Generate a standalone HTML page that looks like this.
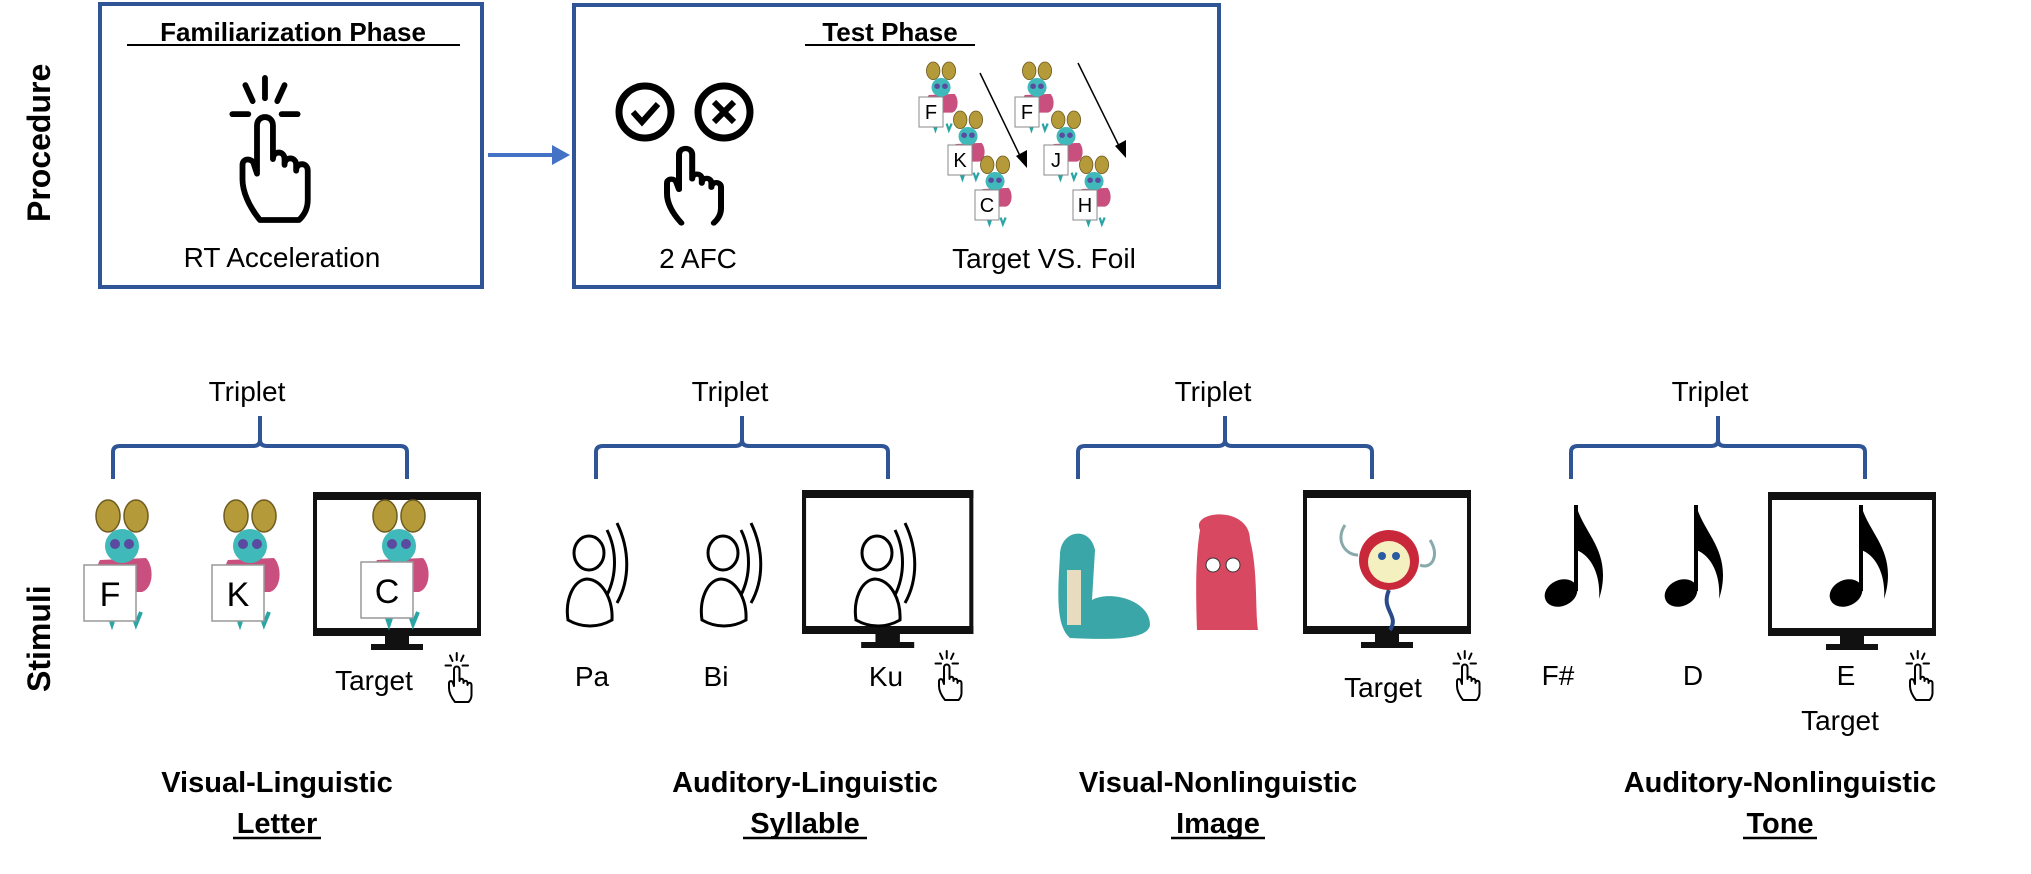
<!DOCTYPE html>
<html><head><meta charset="utf-8"><style>
html,body{margin:0;padding:0;background:#fff;}
svg{display:block;}
text{font-family:"Liberation Sans",sans-serif;fill:#000;}
</style></head><body>
<svg width="2031" height="874" viewBox="0 0 2031 874" xmlns="http://www.w3.org/2000/svg">
<defs>
  <g id="hand">
    <g fill="none" stroke="#000" stroke-width="4" stroke-linecap="round" stroke-linejoin="round">
      <path d="M22,100 C14,90 10,80 10,72 L10,62 C10,57 17,57 18,62 L20,68 L20,35 C20,27 31,27 31,35 L31,58 C31,52 39,52 39,58 L39,62 C39,56 47,56 47,62 L47,66 C47,60 55,60 55,66 L55,86 C55,93 52,97 49,100 Z"/>
      <line x1="25.5" y1="2" x2="25.5" y2="16"/>
      <line x1="12" y1="7" x2="17" y2="18"/>
      <line x1="39" y1="7" x2="34" y2="18"/>
      <line x1="3" y1="27" x2="14" y2="27"/>
      <line x1="37" y1="27" x2="48" y2="27"/>
    </g>
  </g>
  <g id="hand2">
    <g fill="none" stroke="#000" stroke-width="5" stroke-linecap="round" stroke-linejoin="round">
      <path d="M22,100 C14,90 10,80 10,72 L10,62 C10,57 17,57 18,62 L20,68 L20,35 C20,27 31,27 31,35 L31,58 C31,52 39,52 39,58 L39,62 C39,56 47,56 47,62 L47,66 C47,60 55,60 55,66 L55,86 C55,93 52,97 49,100"/>
    </g>
  </g>
  <g id="monster">
    <ellipse cx="20" cy="16" rx="12" ry="16" fill="#b59a3a" stroke="#6e5c20" stroke-width="1.5"/>
    <ellipse cx="48" cy="16" rx="12" ry="16" fill="#b59a3a" stroke="#6e5c20" stroke-width="1.5"/>
    <path d="M12,60 C6,70 8,90 20,92 L54,92 C66,88 66,66 58,58 Z" fill="#c9507e"/>
    <circle cx="34" cy="46" r="17" fill="#3fb9b9"/>
    <circle cx="27" cy="44" r="5" fill="#5a4aa0"/>
    <circle cx="41" cy="44" r="5" fill="#5a4aa0"/>
    <path d="M20,112 l4,12 l4,-12 M44,112 l4,12 l5,-12" stroke="#2aa5a5" stroke-width="4" fill="none"/>
  </g>
  <g id="person">
    <g fill="none" stroke="#000" stroke-width="3">
      <ellipse cx="24" cy="28" rx="15" ry="17"/>
      <path d="M3,95 C0,75 8,55 22,54 C38,55 48,75 47,95 C33,103 17,103 3,95 Z"/>
      <path d="M42,5 C52,25 52,50 42,70"/>
      <path d="M52,-2 C65,25 65,55 52,78"/>
    </g>
  </g>
  <g id="note">
    <ellipse cx="18" cy="88" rx="17" ry="13" transform="rotate(-25 18 88)" fill="#000"/>
    <rect x="31" y="0" width="4" height="86" fill="#000"/>
    <path d="M33,0 C40,25 60,40 60,70 C60,80 58,88 56,94 C58,70 48,50 33,45 Z" fill="#000"/>
  </g>
  <g id="monitor">
    <rect x="2" y="2" width="164" height="140" fill="#fff" stroke="#111" stroke-width="4"/>
    <rect x="0" y="0" width="168" height="8" fill="#111"/>
    <rect x="0" y="136" width="168" height="8" fill="#111"/>
    <rect x="72" y="144" width="24" height="10" fill="#111"/>
    <rect x="58" y="152" width="52" height="6" fill="#111"/>
  </g>
</defs>

<!-- Procedure label -->
<text transform="translate(50,222) rotate(-90)" font-size="32" font-weight="bold">Procedure</text>
<!-- Stimuli label -->
<text transform="translate(50,692) rotate(-90)" font-size="32" font-weight="bold">Stimuli</text>

<!-- Familiarization box -->
<rect x="100" y="4" width="382" height="283" fill="none" stroke="#2f5597" stroke-width="4"/>
<text x="293" y="41" font-size="26" font-weight="bold" text-anchor="middle">Familiarization Phase</text>
<line x1="127" y1="45" x2="460" y2="45" stroke="#000" stroke-width="2"/>
<use href="#hand" transform="translate(228,75) scale(1.45)"/>
<text x="282" y="267" font-size="28" text-anchor="middle">RT Acceleration</text>

<!-- arrow -->
<line x1="488" y1="155" x2="556" y2="155" stroke="#4472c4" stroke-width="4"/>
<polygon points="552,145 570,155 552,165" fill="#4472c4"/>

<!-- Test box -->
<rect x="574" y="5" width="645" height="282" fill="none" stroke="#2f5597" stroke-width="4"/>
<text x="890" y="41" font-size="26" font-weight="bold" text-anchor="middle">Test Phase</text>
<line x1="805" y1="45" x2="975" y2="45" stroke="#000" stroke-width="2"/>
<circle cx="645" cy="112" r="26" fill="none" stroke="#000" stroke-width="7"/>
<path d="M633,112 l9,10 l16,-18" fill="none" stroke="#000" stroke-width="6"/>
<circle cx="724" cy="112" r="26" fill="none" stroke="#000" stroke-width="7"/>
<path d="M714,102 l20,20 M734,102 l-20,20" stroke="#000" stroke-width="6"/>
<use href="#hand2" transform="translate(655,118) scale(1.2,1.05)"/>
<text x="698" y="268" font-size="28" text-anchor="middle">2 AFC</text>
<!-- mini monster sequences -->
<use href="#monster" transform="translate(922,62) scale(0.56,0.55)"/>
<use href="#monster" transform="translate(949,111) scale(0.56,0.55)"/>
<use href="#monster" transform="translate(976,156) scale(0.56,0.55)"/>
<use href="#monster" transform="translate(1018,62) scale(0.56,0.55)"/>
<use href="#monster" transform="translate(1047,111) scale(0.56,0.55)"/>
<use href="#monster" transform="translate(1075,156) scale(0.56,0.55)"/>
<g font-size="20" text-anchor="middle">
<rect x="919" y="97" width="24" height="30" fill="#fff" stroke="#888"/><text x="931" y="119">F</text>
<rect x="948" y="145" width="24" height="30" fill="#fff" stroke="#888"/><text x="960" y="167">K</text>
<rect x="975" y="190" width="24" height="30" fill="#fff" stroke="#888"/><text x="987" y="212">C</text>
<rect x="1015" y="97" width="24" height="30" fill="#fff" stroke="#888"/><text x="1027" y="119">F</text>
<rect x="1044" y="145" width="24" height="30" fill="#fff" stroke="#888"/><text x="1056" y="167">J</text>
<rect x="1073" y="190" width="24" height="30" fill="#fff" stroke="#888"/><text x="1085" y="212">H</text>
</g>
<line x1="980" y1="73" x2="1022" y2="160" stroke="#000" stroke-width="1.5"/>
<polygon points="1016,156 1027,168 1027,150" fill="#000"/>
<line x1="1078" y1="63" x2="1121" y2="150" stroke="#000" stroke-width="1.5"/>
<polygon points="1115,146 1126,158 1126,140" fill="#000"/>
<text x="1044" y="268" font-size="28" text-anchor="middle">Target VS. Foil</text>

<!-- Brackets -->
<g fill="none" stroke="#2f5597" stroke-width="4">
<path d="M113,479 L113,452 Q113,446 120,446 L253,446 Q260,446 260,440 L260,416 M260,440 Q260,446 267,446 L400,446 Q407,446 407,452 L407,479"/>
<path d="M596,479 L596,452 Q596,446 603,446 L735,446 Q742,446 742,440 L742,416 M742,440 Q742,446 749,446 L881,446 Q888,446 888,452 L888,479"/>
<path d="M1078,479 L1078,452 Q1078,446 1085,446 L1218,446 Q1225,446 1225,440 L1225,416 M1225,440 Q1225,446 1232,446 L1365,446 Q1372,446 1372,452 L1372,479"/>
<path d="M1571,479 L1571,452 Q1571,446 1578,446 L1711,446 Q1718,446 1718,440 L1718,416 M1718,440 Q1718,446 1725,446 L1858,446 Q1865,446 1865,452 L1865,479"/>
</g>
<g font-size="28" text-anchor="middle">
<text x="247" y="401">Triplet</text>
<text x="730" y="401">Triplet</text>
<text x="1213" y="401">Triplet</text>
<text x="1710" y="401">Triplet</text>
</g>

<!-- Group 1 -->
<use href="#monitor" transform="translate(313,492)"/>
<use href="#monster" transform="translate(88,500)"/>
<use href="#monster" transform="translate(216,500)"/>
<use href="#monster" transform="translate(365,500)"/>
<g font-size="34" text-anchor="middle">
<rect x="84" y="565" width="52" height="56" fill="#fff" stroke="#999" stroke-width="1.5"/><text x="110" y="606">F</text>
<rect x="212" y="565" width="52" height="56" fill="#fff" stroke="#999" stroke-width="1.5"/><text x="238" y="606">K</text>
<rect x="361" y="562" width="52" height="56" fill="#fff" stroke="#999" stroke-width="1.5"/><text x="387" y="603">C</text>
</g>
<text x="374" y="690" font-size="28" text-anchor="middle">Target</text>
<use href="#hand" transform="translate(444,652) scale(0.5)"/>

<!-- Group 2 -->
<use href="#monitor" transform="translate(802,490) scale(1.02,1)"/>
<use href="#person" transform="translate(565,525)"/>
<use href="#person" transform="translate(699,525)"/>
<use href="#person" transform="translate(853,525)"/>
<g font-size="28" text-anchor="middle">
<text x="592" y="686">Pa</text>
<text x="716" y="686">Bi</text>
<text x="886" y="686">Ku</text>
</g>
<use href="#hand" transform="translate(934,650) scale(0.5)"/>

<!-- Group 3 -->
<use href="#monitor" transform="translate(1303,490)"/>
<g>
  <path d="M1060,555 C1060,530 1090,525 1095,550 L1092,600 C1110,590 1150,600 1150,625 C1148,640 1110,640 1070,638 C1055,625 1058,590 1060,555 Z" fill="#3aa6a8"/>
  <rect x="1067" y="570" width="14" height="55" fill="#e8dcc0"/>
  <path d="M1200,530 C1190,510 1250,505 1250,540 C1258,570 1255,610 1258,630 L1197,630 C1196,600 1195,560 1200,530 Z" fill="#d84860"/>
  <circle cx="1213" cy="565" r="7" fill="#fff" stroke="#333"/>
  <circle cx="1233" cy="565" r="7" fill="#fff" stroke="#333"/>
  <circle cx="1389" cy="560" r="30" fill="#c9283a"/>
  <circle cx="1389" cy="562" r="21" fill="#f4f0c0"/>
  <circle cx="1382" cy="556" r="4" fill="#2a5aa0"/>
  <circle cx="1396" cy="556" r="4" fill="#2a5aa0"/>
  <path d="M1345,525 C1335,540 1345,555 1358,555 M1430,540 C1440,555 1432,570 1420,565" stroke="#8aa" stroke-width="3" fill="none"/>
  <path d="M1389,590 C1380,610 1400,615 1390,630" stroke="#2a4a8a" stroke-width="4" fill="none"/>
</g>
<text x="1383" y="697" font-size="28" text-anchor="middle">Target</text>
<use href="#hand" transform="translate(1452,650) scale(0.5)"/>

<!-- Group 4 -->
<use href="#monitor" transform="translate(1768,492)"/>
<use href="#note" transform="translate(1543,505)"/>
<use href="#note" transform="translate(1663,505)"/>
<use href="#note" transform="translate(1828,505)"/>
<g font-size="28" text-anchor="middle">
<text x="1558" y="685">F#</text>
<text x="1693" y="685">D</text>
<text x="1846" y="685">E</text>
<text x="1840" y="730">Target</text>
</g>
<use href="#hand" transform="translate(1905,650) scale(0.5)"/>

<!-- Bottom labels -->
<g font-size="29" font-weight="bold" text-anchor="middle">
<text x="277" y="792">Visual-Linguistic</text>
<text x="277" y="833">Letter</text>
<text x="805" y="792">Auditory-Linguistic</text>
<text x="805" y="833">Syllable</text>
<text x="1218" y="792">Visual-Nonlinguistic</text>
<text x="1218" y="833">Image</text>
<text x="1780" y="792">Auditory-Nonlinguistic</text>
<text x="1780" y="833">Tone</text>
</g>
<g stroke="#000" stroke-width="2.5">
<line x1="233" y1="838" x2="321" y2="838"/>
<line x1="743" y1="838" x2="867" y2="838"/>
<line x1="1171" y1="838" x2="1265" y2="838"/>
<line x1="1743" y1="838" x2="1817" y2="838"/>
</g>
</svg>
</body></html>
